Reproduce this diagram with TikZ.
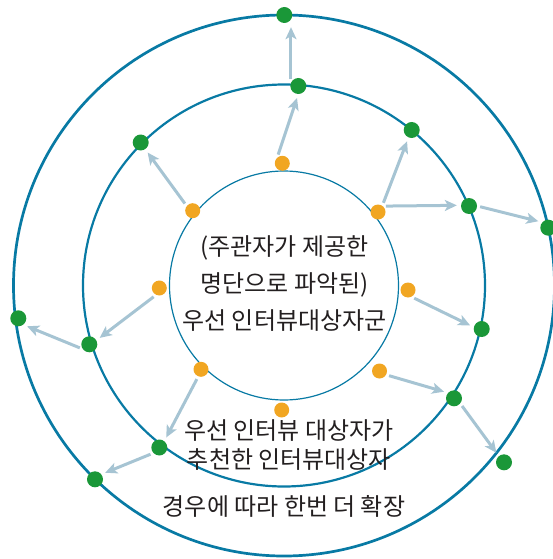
\documentclass[tikz,border=0pt]{standalone}
\usepackage{fontspec}
\newfontfamily\krfont{Noto Sans CJK KR}
\usepackage{tikz}
\usetikzlibrary{arrows.meta}

\definecolor{ringblue}{RGB}{8,122,164}
\definecolor{dotgreen}{RGB}{26,151,56}
\definecolor{dotorange}{RGB}{241,166,34}
\definecolor{linkblue}{RGB}{166,196,211}
\definecolor{textdark}{RGB}{35,31,32}

\begin{document}
\begin{tikzpicture}[x=1pt,y=-1pt,
		ring/.style={draw=ringblue},
		odot/.style={circle,fill=dotorange,inner sep=0pt,minimum size=15pt},
		gdot/.style={circle,fill=dotgreen,inner sep=0pt,minimum size=16pt},
		link/.style={draw=linkblue,line width=3pt,
			-{Stealth[length=12pt,width=11pt,inset=3pt]},
			shorten <=3pt,shorten >=4pt},
		lbl/.style={text=textdark,align=center,inner sep=0pt}]
		\useasboundingbox (0,0) rectangle (553,559);
		
		% the three rings
		\draw[ring,line width=2.7pt] (284,285.5) circle (270.5);
		\draw[ring,line width=2.2pt] (284,285.5) circle (201);
		\draw[ring,line width=1.2pt] (284,285.5) circle (114.5);
		
		% interviewees on the first list (orange)
		\foreach \n/\x/\y in {o1/282.3/163.3, o2/192.7/210.7, o3/378/212, o4/159.3/288,
			o5/408/290, o6/201/369.3, o7/379.5/371, o8/281.7/410}
		\node[odot] (\n) at (\x,\y) {};
		
		% recommended interviewees (green)
		\foreach \n/\x/\y in {a/298.3/86, b/140.7/142.5, c/411.7/130, d/469/206,
			e/89.3/344.3, f/481.7/329, g/159.3/447.5, h/454/398.3,
			A/284.3/15, B/548.3/227.7, C/18.3/318.3, D/95/479.3, E/504/462.3}
		\node[gdot] (\n) at (\x,\y) {};
		
		% who recommends whom
		\foreach \s/\t in {o1.131/a.-90, o2.142/b.-56, o3.56/c.-113, o3.50/d.175,
			d.0/B.138, o4.-115/e.29, e.215/C.-52, o5.-63/f.167, o6.-111/g.52,
			g.-137/D.38, o7.-30/h.138, h.-40/E.130}
		\draw[link] (\s) -- (\t);
		\draw[link] (a.153) -- (a.153 |- A.south);
		
		% texts
		\node[lbl,font=\krfont\fontsize{24}{37}\selectfont] (core) at (284.5,284)
		{(주관자가 제공한\\명단으로 파악된)\\우선 인터뷰대상자군};
		\node[lbl,font=\krfont\fontsize{24}{29}\selectfont] (recom) at (289,445.5)
		{우선 인터뷰 대상자가\\추천한 인터뷰대상자};
		\node[lbl,font=\krfont\fontsize{24}{29}\selectfont] (grow) at (284,506)
		{경우에 따라 한번 더 확장};
	\end{tikzpicture}
\end{document}
